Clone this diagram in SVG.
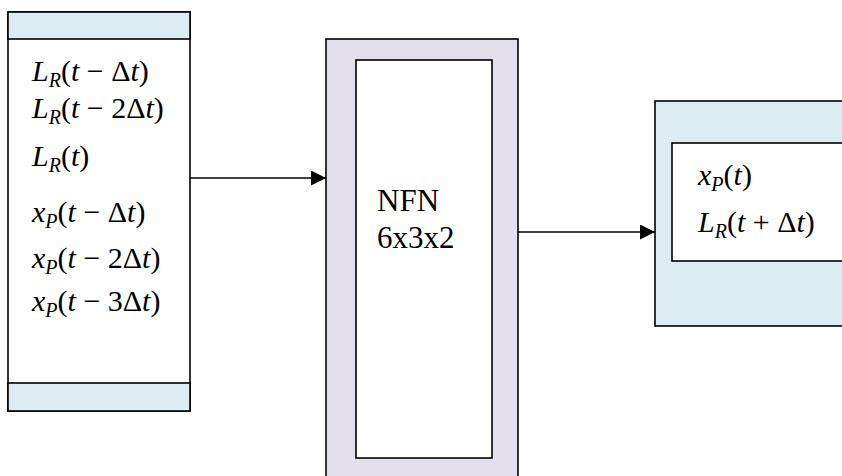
<svg xmlns="http://www.w3.org/2000/svg" width="842" height="476" viewBox="0 0 842 476">
<defs>
<marker id="arr" viewBox="0 0 10 10" refX="10" refY="5" markerWidth="16" markerHeight="15" markerUnits="userSpaceOnUse" orient="auto">
<path d="M0,0 L10,5 L0,10 z" fill="#000"/>
</marker>
</defs>
<rect width="842" height="476" fill="#fff"/>
<g id="inputs" stroke="#000" stroke-width="1.6">
<rect fill="#fff" x="8" y="12" width="182" height="399"/>
<rect fill="#dbedf3" x="8" y="12" width="182" height="27"/>
<rect fill="#dbedf3" x="8" y="383" width="182" height="28"/>
</g>
<g id="inputs-text" font-family="Liberation Serif" font-size="30">
<text x="32" y="81" style="font-family:'Liberation Serif'"><tspan font-style="italic">L</tspan><tspan font-style="italic" font-size="20" dy="6">R</tspan><tspan dy="-6">(</tspan><tspan font-style="italic">t</tspan> − Δ<tspan font-style="italic">t</tspan>)</text>
<text x="32" y="118" style="font-family:'Liberation Serif'"><tspan font-style="italic">L</tspan><tspan font-style="italic" font-size="20" dy="6">R</tspan><tspan dy="-6">(</tspan><tspan font-style="italic">t</tspan> − 2Δ<tspan font-style="italic">t</tspan>)</text>
<text x="32" y="166" style="font-family:'Liberation Serif'"><tspan font-style="italic">L</tspan><tspan font-style="italic" font-size="20" dy="6">R</tspan><tspan dy="-6">(</tspan><tspan font-style="italic">t</tspan>)</text>
<text x="32" y="222" style="font-family:'Liberation Serif'"><tspan font-style="italic">x</tspan><tspan font-style="italic" font-size="20" dy="6">P</tspan><tspan dy="-6">(</tspan><tspan font-style="italic">t</tspan> − Δ<tspan font-style="italic">t</tspan>)</text>
<text x="32" y="268" style="font-family:'Liberation Serif'"><tspan font-style="italic">x</tspan><tspan font-style="italic" font-size="20" dy="6">P</tspan><tspan dy="-6">(</tspan><tspan font-style="italic">t</tspan> − 2Δ<tspan font-style="italic">t</tspan>)</text>
<text x="32" y="311" style="font-family:'Liberation Serif'"><tspan font-style="italic">x</tspan><tspan font-style="italic" font-size="20" dy="6">P</tspan><tspan dy="-6">(</tspan><tspan font-style="italic">t</tspan> − 3Δ<tspan font-style="italic">t</tspan>)</text>
</g>
<g id="nfn">
<rect fill="#e4dfec" stroke="#000" stroke-width="1.6" x="326" y="39" width="192" height="450"/>
<rect fill="#fff" stroke="#000" stroke-width="1.6" x="356" y="60" width="136" height="398"/>
<text x="377" y="211" font-size="31" style="font-family:'Liberation Serif'">NFN</text>
<text x="377" y="248" font-size="31" style="font-family:'Liberation Serif'">6x3x2</text>
</g>
<g id="outputs">
<rect fill="#dbedf3" stroke="#000" stroke-width="1.6" x="655" y="101" width="200" height="225"/>
<rect fill="#fff" stroke="#000" stroke-width="1.6" x="672" y="143" width="180" height="118"/>
<text x="698" y="185" font-size="30" style="font-family:'Liberation Serif'"><tspan font-style="italic">x</tspan><tspan font-style="italic" font-size="20" dy="6">P</tspan><tspan dy="-6">(</tspan><tspan font-style="italic">t</tspan>)</text>
<text x="698" y="232" font-size="30" style="font-family:'Liberation Serif'"><tspan font-style="italic">L</tspan><tspan font-style="italic" font-size="20" dy="6">R</tspan><tspan dy="-6">(</tspan><tspan font-style="italic">t</tspan> + Δ<tspan font-style="italic">t</tspan>)</text>
</g>
<g id="connectors" stroke="#000" stroke-width="1.6" fill="none">
<line x1="190" y1="178" x2="326" y2="178" marker-end="url(#arr)"/>
<line x1="518" y1="232" x2="655" y2="232" marker-end="url(#arr)"/>
</g>
</svg>
